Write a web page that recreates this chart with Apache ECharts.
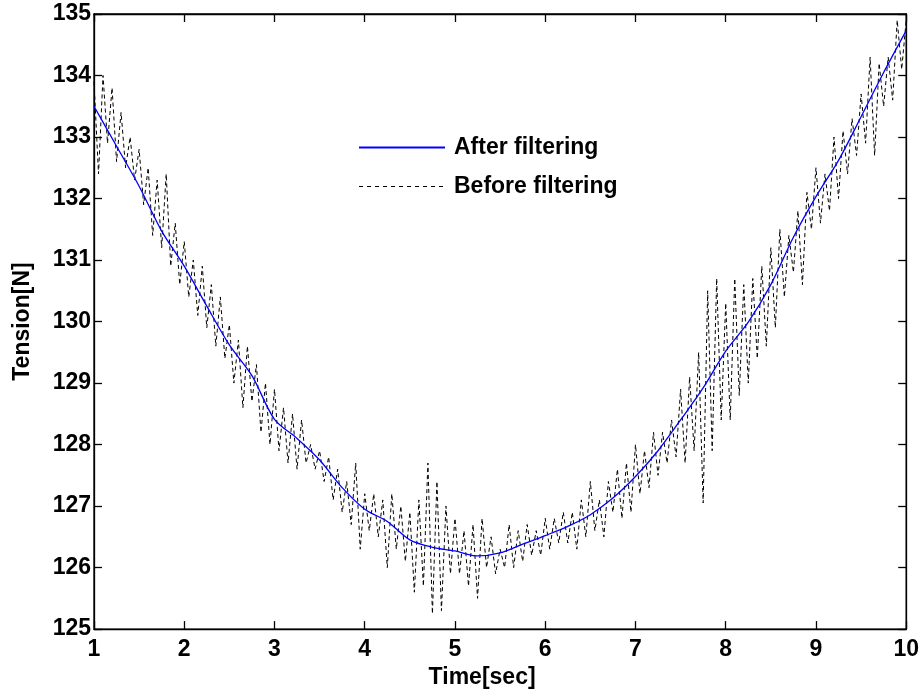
<!DOCTYPE html>
<html>
<head>
<meta charset="utf-8">
<script src="https://cdn.jsdelivr.net/npm/echarts@6/dist/echarts.min.js"></script>
<style>
html,body{margin:0;padding:0;background:#fff;}
#c{width:922px;height:694px;}
</style>
</head>
<body>
<div id="c"></div>
<script>
// Before filtering: raw tension samples, 1.00 s to 10.00 s every 0.05 s
var rawStart = 1, rawStep = 0.05;
var rawTension = [
  133.9,132.4,134.0,132.9,133.8,132.6,133.4,132.5,133.0,132.3,132.8,131.9,132.5,131.4,132.3,131.2,132.4,130.9,131.6,130.6,
  131.3,130.4,131.0,130.1,130.9,129.9,130.6,129.6,130.4,129.4,129.95,129.0,129.7,128.6,129.6,128.7,129.3,128.2,129.0,128.0,
  128.9,127.9,128.6,127.7,128.5,127.6,128.4,127.7,128.0,127.6,127.9,127.4,127.8,127.1,127.6,126.9,127.4,126.7,127.7,126.3,
  127.2,126.6,127.2,126.5,127.1,126.0,127.2,126.3,127.0,126.1,126.9,125.6,127.1,125.7,127.7,125.25,127.4,125.3,127.0,125.9,
  126.8,125.9,126.6,125.7,126.7,125.5,126.8,126.0,126.5,125.9,126.3,126.0,126.7,126.0,126.6,126.1,126.7,126.2,126.6,126.2,
  126.8,126.3,126.8,126.4,126.9,126.4,126.9,126.3,127.1,126.5,127.4,126.6,127.1,126.5,127.4,126.9,127.6,126.8,127.7,126.9,
  128.0,127.2,127.9,127.3,128.2,127.5,128.2,127.7,128.4,127.8,128.9,127.7,129.1,127.9,129.5,127.05,130.5,127.9,130.7,128.4,
  130.3,128.4,130.7,128.8,130.6,129.0,130.7,129.4,130.9,129.6,131.2,129.9,131.5,130.4,131.4,130.8,131.8,130.6,132.1,131.5,
  132.5,131.6,132.4,131.8,133.0,132.0,133.1,132.4,133.3,132.7,133.7,132.9,134.3,132.7,134.2,133.5,134.3,133.6,134.9,134.1,
  134.9
];
// After filtering: smoothed tension, 1.00 s to 10.00 s every 0.25 s
var filtStart = 1, filtStep = 0.25;
var filtTension = [
  133.5,132.85,132.2,131.47,130.9,130.25,129.62,129.12,128.41,128.1,127.75,127.3,
  126.95,126.75,126.45,126.33,126.27,126.19,126.24,126.38,126.52,126.67,126.86,127.13,
  127.48,127.9,128.4,128.92,129.52,129.99,130.6,131.37,132.03,132.62,133.33,134.05,134.73
];
var xTicks = [1,2,3,4,5,6,7,8,9,10];
var yTicks = [125,126,127,128,129,130,131,132,133,134,135];

var rawData = rawTension.map(function(v,i){ return [+(rawStart + i*rawStep).toFixed(2), v]; });
var filtData = filtTension.map(function(v,i){ return [+(filtStart + i*filtStep).toFixed(2), v]; });

var FONT = '"Liberation Sans", Arial, sans-serif';
var FS = 23;
var lab = {color:'#000', fontFamily:FONT, fontWeight:'bold', fontSize:FS};

var chart = echarts.init(document.getElementById('c'), null, {renderer:'canvas'});
chart.setOption({
  backgroundColor:'#fff',
  animation:false,
  grid:{left:94, right:15, top:14, bottom:64, show:true, borderColor:'#000', borderWidth:1.3, backgroundColor:'#fff'},
  legend:{
    data:[
      {name:'After filtering'},
      {name:'Before filtering', lineStyle:{type:[4,4], width:1}}
    ],
    orient:'vertical', left:353, top:131,
    itemWidth:86, itemHeight:22, itemGap:16,
    itemStyle:{opacity:0},
    textStyle:{color:'#000', fontFamily:FONT, fontWeight:'bold', fontSize:FS, padding:[0,0,0,4]}
  },
  xAxis:[{
    type:'value', min:xTicks[0], max:xTicks[xTicks.length-1], interval:1,
    name:'Time[sec]', nameLocation:'middle', nameGap:35,
    nameTextStyle:{color:'#000', fontFamily:FONT, fontWeight:'bold', fontSize:FS, padding:[0,36,0,0]},
    axisLine:{show:true, lineStyle:{color:'#000', width:1.3}},
    axisTick:{show:true, inside:true, length:8, lineStyle:{color:'#000', width:1.3}},
    axisLabel:Object.assign({margin:9}, lab),
    splitLine:{show:false}
  },{
    type:'value', position:'top', min:xTicks[0], max:xTicks[xTicks.length-1], interval:1,
    axisLine:{show:true, lineStyle:{color:'#000', width:1.3}},
    axisTick:{show:true, inside:true, length:8, lineStyle:{color:'#000', width:1.3}},
    axisLabel:{show:false}, splitLine:{show:false}
  }],
  yAxis:[{
    type:'value', min:yTicks[0], max:yTicks[yTicks.length-1], interval:1,
    name:'Tension[N]', nameLocation:'middle', nameGap:60, nameRotate:90,
    nameTextStyle:{color:'#000', fontFamily:FONT, fontWeight:'bold', fontSize:FS},
    axisLine:{show:true, lineStyle:{color:'#000', width:1.3}},
    axisTick:{show:true, inside:true, length:8, lineStyle:{color:'#000', width:1.3}},
    axisLabel:Object.assign({margin:3}, lab),
    splitLine:{show:false}
  },{
    type:'value', position:'right', min:yTicks[0], max:yTicks[yTicks.length-1], interval:1,
    axisLine:{show:true, lineStyle:{color:'#000', width:1.3}},
    axisTick:{show:true, inside:true, length:8, lineStyle:{color:'#000', width:1.3}},
    axisLabel:{show:false}, splitLine:{show:false}
  }],
  series:[{
    name:'Before filtering', type:'line', data:rawData, symbol:'none',
    lineStyle:{color:'#000', width:1, type:[4,3]}, itemStyle:{color:'#000'}, z:2
  },{
    name:'After filtering', type:'line', data:filtData, symbol:'none', smooth:0.3,
    lineStyle:{color:'#0000ff', width:1.3, type:'solid'}, itemStyle:{color:'#0000ff'}, z:3
  }]
});
</script>
</body>
</html>
